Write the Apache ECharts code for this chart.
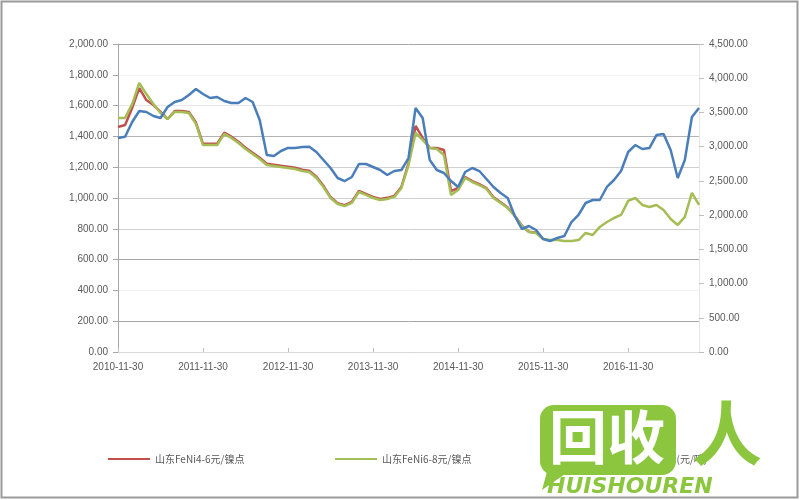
<!DOCTYPE html>
<html>
<head>
<meta charset="utf-8">
<title>山东镍铁价格</title>
<script src="https://cdn.jsdelivr.net/npm/echarts@6/dist/echarts.min.js"></script>
<style>
  html, body { margin: 0; padding: 0; background: #fff; }
  #main { width: 800px; height: 500px; }
</style>
</head>
<body>
<div id="main"></div>
<script>
  // monthly points, 2010-11 .. 2017-09
  const months = []
  for (let i = 0; i < 83; i++) {
    const y = 2010 + Math.floor((10 + i) / 12)
    const m = (10 + i) % 12
    const d = new Date(y, m + 1, 0).getDate()
    months.push(y + '-' + String(m + 1).padStart(2, '0') + '-' + d)
  }

  const seriesNames = ['山东FeNi4-6元/镍点', '山东FeNi6-8元/镍点', '山东FeNi10-15(元/吨)']

  // 元/镍点 (left axis)
  const feni46 = [
    1461, 1474, 1585, 1714, 1636, 1604, 1559, 1513, 1565, 1565, 1558, 1490,
    1352, 1352, 1352, 1424, 1398, 1365, 1326, 1294, 1261, 1222, 1216, 1209,
    1203, 1196, 1183, 1177, 1138, 1079, 1006, 967, 954, 975, 1046, 1027,
    1007, 994, 1001, 1014, 1072, 1225, 1468, 1390, 1325, 1325, 1312, 1045,
    1065, 1135, 1110, 1090, 1065, 1005, 972, 938, 885, 820, 781, 775,
  ]
  const feni68 = [
    1520, 1520, 1610, 1747, 1675, 1610, 1552, 1513, 1559, 1559, 1552, 1481,
    1344, 1344, 1344, 1416, 1390, 1357, 1318, 1286, 1253, 1214, 1208, 1201,
    1195, 1188, 1175, 1169, 1130, 1071, 1000, 961, 948, 968, 1039, 1020,
    1000, 987, 994, 1007, 1065, 1214, 1422, 1377, 1325, 1318, 1279, 1020,
    1052, 1130, 1104, 1084, 1059, 1000, 968, 935, 883, 818, 779, 773,
    734, 727, 727, 721, 721, 727, 773, 760, 812, 844, 870, 890,
    981, 1000, 955, 942, 955, 922, 864, 825, 877, 1033, 955,
  ]
  // 元/吨 (right axis)
  const feni1015 = [
    3127, 3146, 3360, 3521, 3506, 3448, 3419, 3580, 3653, 3682, 3755, 3842,
    3769, 3711, 3726, 3667, 3638, 3638, 3711, 3653, 3390, 2878, 2864, 2937,
    2981, 2981, 2995, 3000, 2922, 2805, 2688, 2542, 2498, 2557, 2747, 2747,
    2703, 2659, 2586, 2644, 2659, 2834, 3565, 3419, 2805, 2659, 2615, 2498,
    2411, 2630, 2688, 2644, 2528, 2411, 2323, 2250, 1987, 1797, 1841, 1782,
    1651, 1622, 1666, 1695, 1899, 2002, 2177, 2221, 2221, 2411, 2513, 2644,
    2922, 3024, 2966, 2980, 3170, 3185, 2951, 2542, 2805, 3433, 3565,
  ]

  const gridColors = ['#a6a6a6', '#a6a6a6', '#f2f2f2', '#a6a6a6', '#d0d0d0', '#d0d0d0',
    '#d0d0d0', '#b4b4b4', '#e8e8e8', '#f2f2f2', '#a6a6a6']

  const fmt = v => v.toLocaleString('en-US', { minimumFractionDigits: 2, maximumFractionDigits: 2 })
  const yearly = i => i % 12 === 0
  const labelFont = { color: '#595959', fontSize: 10, fontFamily: 'Liberation Sans' }
  const legendBase = {
    top: 449,
    icon: 'rect',
    itemWidth: 42,
    itemHeight: 2,
    textStyle: { color: '#595959', fontSize: 10, fontFamily: 'Noto Sans CJK SC' },
  }

  let chart = echarts.init(document.getElementById('main'))
  chart.setOption({
    animation: false,
    backgroundColor: '#fff',
    grid: { left: 118, right: 101, top: 44, bottom: 148 },
    legend: [
      Object.assign({ left: 103, data: [seriesNames[0]] }, legendBase),
      Object.assign({ left: 330, data: [seriesNames[1]] }, legendBase),
      Object.assign({ left: 558, data: [seriesNames[2]] }, legendBase),
    ],
    xAxis: {
      type: 'category',
      data: months,
      boundaryGap: false,
      axisLine: { lineStyle: { color: '#d9d9d9' } },
      axisTick: { interval: yearly, inside: true, length: 4, lineStyle: { color: '#bfbfbf' } },
      axisLabel: Object.assign({ interval: yearly, margin: 10 }, labelFont),
      splitLine: { show: false },
    },
    yAxis: [
      {
        type: 'value',
        min: 0,
        max: 2000,
        interval: 200,
        axisLine: { show: true, lineStyle: { color: '#a6a6a6' } },
        axisTick: { show: true, length: 5, lineStyle: { color: '#a6a6a6' } },
        axisLabel: Object.assign({ formatter: fmt, margin: 10 }, labelFont),
        splitLine: { lineStyle: { color: gridColors, width: 1 } },
      },
      {
        type: 'value',
        min: 0,
        max: 4500,
        interval: 500,
        axisLine: { show: true, lineStyle: { color: '#e6e6e6' } },
        axisTick: { show: true, length: 5, lineStyle: { color: '#bfbfbf' } },
        axisLabel: Object.assign({ formatter: fmt, margin: 10 }, labelFont),
        splitLine: { show: false },
      },
    ],
    series: [
      {
        name: seriesNames[0],
        type: 'line',
        data: feni46,
        showSymbol: false,
        itemStyle: { color: '#c0504d' },
        lineStyle: { width: 2.5, color: '#c0504d' },
      },
      {
        name: seriesNames[1],
        type: 'line',
        data: feni68,
        showSymbol: false,
        itemStyle: { color: '#a4bd55' },
        lineStyle: { width: 2.5, color: '#a4bd55' },
      },
      {
        name: seriesNames[2],
        type: 'line',
        yAxisIndex: 1,
        data: feni1015,
        showSymbol: false,
        itemStyle: { color: '#4a7ebb' },
        lineStyle: { width: 2.5, color: '#4a7ebb' },
      },
    ],
    graphic: [
      {
        type: 'rect',
        shape: { x: 1.5, y: 1.5, width: 796, height: 496 },
        style: { fill: 'none', stroke: '#9a9a9a', lineWidth: 2 },
        silent: true,
      },
      // watermark
      {
        type: 'polygon',
        shape: { points: [[548, 468], [542, 490], [568, 472]] },
        style: { fill: '#8cc63f' },
        z: 100,
      },
      {
        type: 'rect',
        shape: { x: 540, y: 405, width: 136, height: 70, r: 14 },
        style: { fill: '#8cc63f' },
        z: 100,
      },
      {
        type: 'text',
        left: 549,
        top: 408,
        style: { text: '回收', fill: '#fff', font: 'bold 58px "Noto Sans CJK SC"' },
        z: 101,
      },
      {
        type: 'text',
        left: 692,
        top: 398,
        style: { text: '人', fill: '#8cc63f', font: 'bold 70px "Noto Sans CJK SC"' },
        z: 101,
      },
      {
        type: 'text',
        left: 547,
        top: 476,
        style: { text: 'HUISHOUREN', fill: '#8cc63f', font: 'italic bold 22px "DejaVu Sans"' },
        z: 101,
      },
    ],
  })
</script>
</body>
</html>
